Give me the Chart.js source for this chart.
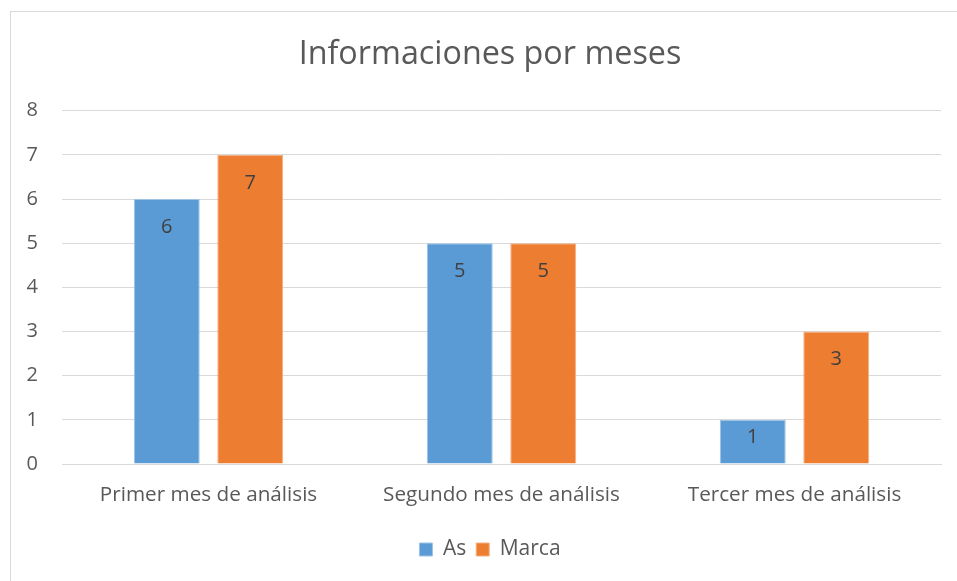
<!DOCTYPE html>
<html>
<head>
<meta charset="utf-8">
<script src="https://cdn.jsdelivr.net/npm/chart.js@4.4.0/dist/chart.umd.min.js"></script>
<style>
  html, body { margin: 0; padding: 0; background: #ffffff; overflow: hidden; width: 957px; height: 581px; }
  #frame { position: absolute; left: 10px; top: 11px; width: 980px; height: 600px;
           border-left: 1px solid #d9d9d9; border-top: 1px solid #d9d9d9; }
  #wrap { position: absolute; left: 0; top: 0; width: 980px; height: 581px; }
</style>
</head>
<body>
<div id="frame"></div>
<div id="wrap"><canvas id="c" width="980" height="581"></canvas></div>
<script>
const chartTitle = "Informaciones por meses";
const categories = ["Primer mes de análisis", "Segundo mes de análisis", "Tercer mes de análisis"];
const seriesNames = ["As", "Marca"];
const asValues = [6, 5, 1];
const marcaValues = [7, 5, 3];
const yTicks = [0, 1, 2, 3, 4, 5, 6, 7, 8];

const FONT = "'Open Sans', 'Liberation Sans', sans-serif";
const TEXT = "#595959";

const dataLabels = {
  id: 'dataLabels',
  afterDatasetsDraw(chart) {
    const ctx = chart.ctx;
    ctx.save();
    ctx.font = "20px " + FONT;
    ctx.fillStyle = "#404040";
    ctx.textAlign = "center";
    ctx.textBaseline = "middle";
    chart.data.datasets.forEach((ds, i) => {
      chart.getDatasetMeta(i).data.forEach((bar, j) => {
        const h = bar.base - bar.y;
        const off = Math.min(28, h - 26);
        ctx.fillText(String(ds.data[j]), bar.x, bar.y + off);
      });
    });
    ctx.restore();
  }
};

new Chart(document.getElementById('c'), {
  type: 'bar',
  data: {
    labels: categories,
    datasets: [
      { label: seriesNames[0], data: asValues, backgroundColor: '#5b9bd5', borderColor: '#9dc3e6', borderWidth: 1, yAxisID: 'y' },
      { label: seriesNames[1], data: marcaValues, backgroundColor: '#ed7d31', borderColor: '#f4b183', borderWidth: 1, yAxisID: 'y' }
    ]
  },
  options: {
    responsive: false,
    animation: false,
    layout: { padding: { left: 0, right: 0, top: 0, bottom: 11 } },
    datasets: { bar: { categoryPercentage: 0.57, barPercentage: 0.79 } },
    plugins: {
      title: {
        display: true, text: chartTitle, color: TEXT,
        font: { family: FONT, size: 32.3, weight: 'normal' },
        padding: { top: 35, bottom: 37 }
      },
      legend: {
        position: 'bottom',
        labels: {
          color: TEXT, font: { family: FONT, size: 21 },
          boxWidth: 13, boxHeight: 13, padding: 10
        }
      },
      tooltip: { enabled: false }
    },
    scales: {
      x: {
        grid: { display: false, drawTicks: false },
        border: { display: true, color: '#d9d9d9', width: 1 },
        ticks: { color: TEXT, font: { family: FONT, size: 20.7 }, padding: 19 },
        afterFit(s) { s.height = 65; }
      },
      y: {
        min: 0, max: 8,
        afterBuildTicks(s) { s.ticks = yTicks.map(v => ({ value: v })); },
        grid: { color: '#d9d9d9', drawTicks: false, lineWidth: 1 },
        border: { display: false },
        ticks: { color: TEXT, font: { family: FONT, size: 20 }, padding: 24 },
        afterFit(s) { s.width = 62; }
      },
      yR: {
        position: 'right', min: 0, max: 8,
        grid: { display: false, drawTicks: false },
        border: { display: false },
        ticks: { display: false },
        afterFit(s) { s.width = 39; }
      }
    }
  },
  plugins: [dataLabels]
});
</script>
</body>
</html>
